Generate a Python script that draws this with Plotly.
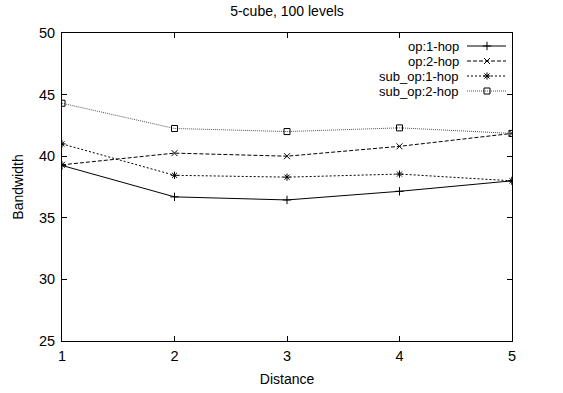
import plotly.graph_objects as go

distance = [1, 2, 3, 4, 5]
op_1hop = [39.25, 36.7, 36.45, 37.15, 38.0]
op_2hop = [39.3, 40.25, 40.0, 40.8, 41.85]
sub_op_1hop = [41.0, 38.45, 38.3, 38.55, 38.0]
sub_op_2hop = [44.3, 42.25, 42.0, 42.3, 41.85]

names = ["op:1-hop", "op:2-hop", "sub_op:1-hop", "sub_op:2-hop"]
series = [op_1hop, op_2hop, sub_op_1hop, sub_op_2hop]
dashes = ["solid", "4px,2px", "2px,2px", "1px,1px"]
colors = ["#000000", "#000000", "#000000", "#555555"]
symbols = ["cross-thin-open", "x-thin-open", "asterisk-open", "square-open"]
msizes = [6, 6, 6, 6]

FONT = "Liberation Sans, Arial"
W, H = 563, 393
L, R, T, B = 62, 51, 33, 52

fig = go.Figure()
for nm, ys, d, c, s, ms in zip(names, series, dashes, colors, symbols, msizes):
    fig.add_trace(go.Scatter(
        x=distance, y=ys, mode="lines+markers", name=nm,
        line=dict(color=c, width=1, dash=d),
        marker=dict(symbol=s, size=ms, color="#000000", line=dict(color="#000000", width=1)),
        showlegend=False,
    ))

# manual gnuplot-style legend (text right, sample on the right), in pixel coords on overlay axes
leg_y = [46, 61, 76, 91]
for nm, ly, d, c, s, ms in zip(names, leg_y, dashes, colors, symbols, msizes):
    fig.add_trace(go.Scatter(
        x=[467, 506], y=[ly, ly], mode="lines", xaxis="x2", yaxis="y2",
        line=dict(color=c, width=1, dash=d), showlegend=False, hoverinfo="skip"))
    fig.add_trace(go.Scatter(
        x=[487], y=[ly], mode="markers", xaxis="x2", yaxis="y2",
        marker=dict(symbol=s, size=ms, color="#000000", line=dict(color="#000000", width=1)),
        showlegend=False, hoverinfo="skip"))
    fig.add_annotation(x=461, y=ly, xref="x2", yref="y2", text=nm, showarrow=False,
                       xanchor="right", yanchor="middle",
                       font=dict(family=FONT, size=13, color="#000"))

axis_common = dict(showline=True, linecolor="#000", linewidth=1, mirror="allticks",
                   ticks="inside", ticklen=5, tickcolor="#000", tickwidth=1,
                   showgrid=False, zeroline=False, automargin=False,
                   tickfont=dict(family=FONT, size=14.5, color="#000"))

fig.update_layout(
    width=W, height=H,
    margin=dict(l=L, r=R, t=T, b=B, pad=0, autoexpand=False),
    paper_bgcolor="white", plot_bgcolor="white",
    title=dict(text="5-cube, 100 levels", x=(L + (W - L - R) / 2) / W, xanchor="center",
               y=1 - 11 / H, yanchor="middle",
               font=dict(family=FONT, size=14, color="#000")),
    xaxis=dict(range=[1, 5], tickvals=[1, 2, 3, 4, 5], ticklabelstandoff=2,
               title=dict(text="Distance", standoff=10, font=dict(family=FONT, size=14, color="#000")),
               **axis_common),
    yaxis=dict(range=[25, 50], tickvals=[25, 30, 35, 40, 45, 50], ticklabelstandoff=3,
               title=dict(text="Bandwidth", standoff=12, font=dict(family=FONT, size=14, color="#000")),
               **axis_common),
    xaxis2=dict(domain=[0, 1], range=[L, W - R], overlaying="x", visible=False, fixedrange=True),
    yaxis2=dict(domain=[0, 1], range=[H - B, T], overlaying="y", visible=False, fixedrange=True),
)

fig.write_html("out.html")
